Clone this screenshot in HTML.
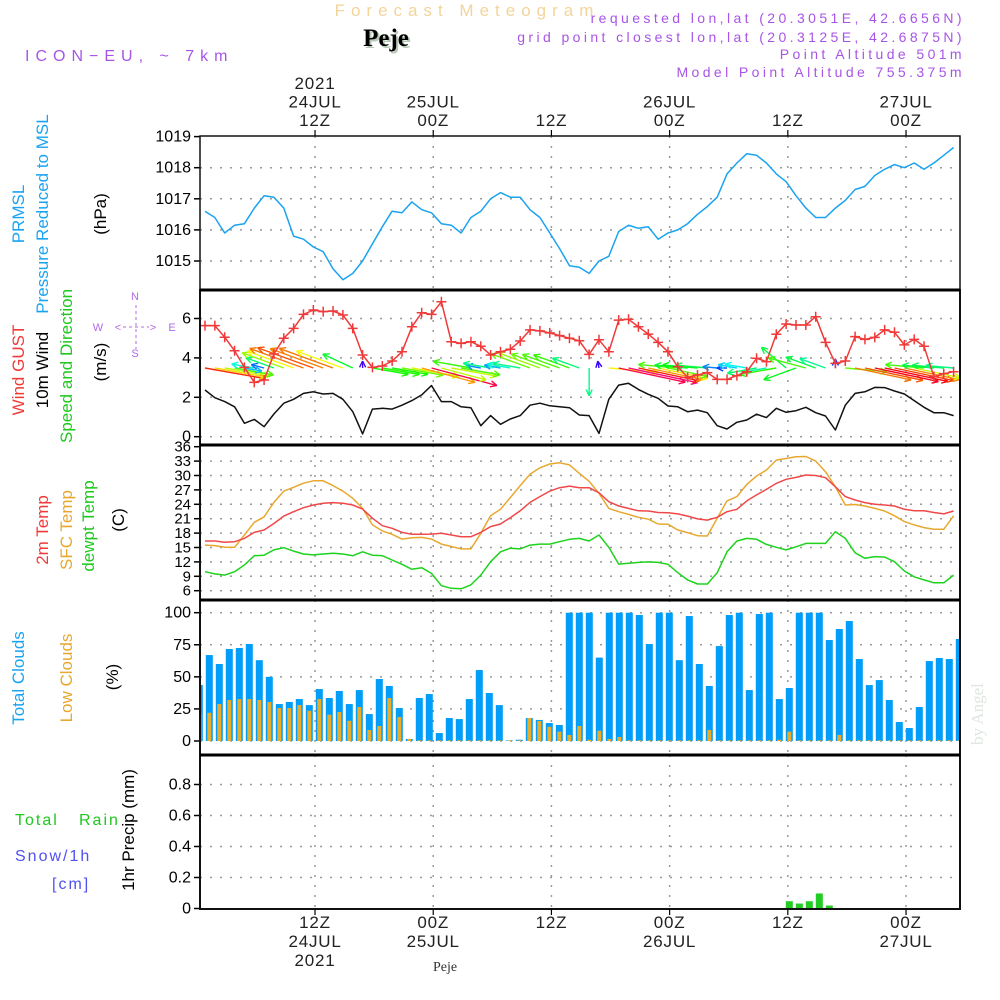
<!DOCTYPE html>
<html><head><meta charset="utf-8"><title>Forecast Meteogram - Peje</title>
<style>
html,body{margin:0;padding:0;background:#fff;}
svg{display:block;font-family:"Liberation Sans",sans-serif;}
.n{font-family:"Liberation Sans Narrow","Liberation Sans",sans-serif;}
</style></head>
<body>
<svg id="chart" width="1000" height="1000" viewBox="0 0 1000 1000" xmlns="http://www.w3.org/2000/svg">
<defs>
<clipPath id="c1"><rect x="200" y="136" width="760" height="154"/></clipPath>
<clipPath id="c2"><rect x="200" y="290" width="760" height="155"/></clipPath>
<clipPath id="c3"><rect x="200" y="445" width="760" height="155"/></clipPath>
<clipPath id="c4"><rect x="200" y="600" width="760" height="155"/></clipPath>
<clipPath id="c5"><rect x="200" y="755" width="760" height="154"/></clipPath>
</defs>
<text x="467" y="16" text-anchor="middle" fill="#f3d59a" font-size="17" letter-spacing="6">Forecast Meteogram</text>
<text x="388" y="48" text-anchor="middle" fill="#b8c8b8" font-family="Liberation Serif,serif" font-weight="bold" font-size="25">Peje</text>
<text x="386" y="46" text-anchor="middle" fill="#000" font-family="Liberation Serif,serif" font-weight="bold" font-size="25">Peje</text>
<text x="25" y="61" fill="#a855e6" font-size="16" letter-spacing="6">ICON−EU, ~ 7km</text>
<g fill="#a855e6" font-size="14" letter-spacing="3.4" text-anchor="end">
<text x="965" y="23">requested lon,lat (20.3051E, 42.6656N)</text>
<text x="965" y="42">grid point closest lon,lat (20.3125E, 42.6875N)</text>
<text x="965" y="59">Point Altitude 501m</text>
<text x="965" y="77">Model Point Altitude 755.375m</text>
</g>
<g id="grid"></g>
<g id="series"></g>
<g id="frames"></g>
<g id="labels"></g>
<text transform="translate(983,745) rotate(-90)" fill="#dfe6df" font-family="Liberation Serif,serif" font-size="17">by Angel</text>
<text x="445" y="971" text-anchor="middle" fill="#333" font-family="Liberation Serif,serif" font-size="14">Peje</text>
</svg>
<script>
// ---- data ----
const timeTickLabelsTop = [["2021","24JUL","12Z"],["25JUL","00Z"],["12Z"],["26JUL","00Z"],["12Z"],["27JUL","00Z"]];
const timeTickLabelsBottom = [["12Z","24JUL","2021"],["00Z","25JUL"],["12Z"],["00Z","26JUL"],["12Z"],["00Z","27JUL"]];
const timeTickHours = [11.17, 23.17, 35.17, 47.17, 59.17, 71.17];
const pressure = [1016.6,1016.4,1015.9,1016.15,1016.2,1016.7,1017.1,1017.05,1016.7,1015.8,1015.7,1015.45,1015.3,1014.75,1014.4,1014.6,1015.0,1015.55,1016.1,1016.6,1016.55,1016.9,1016.65,1016.55,1016.2,1016.15,1015.9,1016.4,1016.6,1017.0,1017.2,1017.05,1017.05,1016.65,1016.4,1015.9,1015.4,1014.85,1014.8,1014.6,1015.0,1015.15,1015.95,1016.15,1016.05,1016.1,1015.7,1015.9,1016.0,1016.2,1016.5,1016.75,1017.05,1017.8,1018.15,1018.45,1018.4,1018.15,1017.8,1017.55,1017.1,1016.7,1016.4,1016.4,1016.7,1016.95,1017.3,1017.4,1017.75,1017.95,1018.1,1018.0,1018.15,1017.95,1018.15,1018.4,1018.65];
const pressureTicks = [1015,1016,1017,1018,1019];
const windSpeed = [2.37,1.98,1.78,1.52,0.68,0.88,0.51,1.15,1.7,1.9,2.2,2.28,2.17,2.2,1.9,1.27,0.14,1.4,1.44,1.4,1.6,1.83,2.12,2.6,1.78,1.78,1.52,1.47,0.56,1.07,0.63,0.9,1.07,1.6,1.7,1.57,1.52,1.47,1.1,1.07,0.17,1.9,2.62,2.71,2.4,2.15,1.95,1.56,1.52,1.27,1.35,1.22,0.56,0.39,0.73,0.85,1.14,0.97,1.44,1.24,1.32,1.49,1.22,1.05,0.34,1.6,2.2,2.28,2.5,2.49,2.32,2.17,1.83,1.49,1.22,1.22,1.07];
const windGust = [5.64,5.64,5.05,4.36,3.52,2.76,2.88,4.2,5.0,5.5,6.21,6.43,6.35,6.38,6.18,5.5,4.15,3.52,3.59,3.84,4.31,5.58,6.29,6.21,6.85,4.82,4.74,4.82,4.59,4.15,4.31,4.44,4.86,5.42,5.37,5.27,5.13,5.0,4.87,4.18,4.92,4.31,5.92,5.96,5.58,5.21,4.79,4.31,3.55,3.01,3.13,3.25,2.91,2.91,3.1,3.3,3.98,3.81,5.2,5.72,5.67,5.67,6.09,4.79,3.72,3.84,5.08,4.94,5.04,5.42,5.3,4.66,4.94,4.59,3.05,3.2,3.3];
const windDir = [-10,-10,-10,-10,-10,170,165,160,160,160,160,160,160,160,160,155,90,-10,-10,-10,-10,-10,-15,-15,-15,-10,-10,170,170,170,170,170,170,160,160,160,160,160,160,270,100,-5,-12,-12,-12,-12,-12,-12,175,175,175,175,175,180,170,170,190,190,190,140,200,165,160,160,90,-5,-12,-12,-12,-12,-12,-12,-12,175,175,175,175];
const windTicks = [0,2,4,6];
const temp2m = [16.35,16.35,16.1,16.2,16.9,18.15,18.65,20.0,21.55,22.45,23.3,23.85,24.2,24.35,24.2,23.85,23.0,21.1,19.55,19.0,18.15,17.75,17.75,17.8,17.95,17.6,17.25,17.25,18.15,19.35,19.9,21.2,22.65,24.4,25.6,26.75,27.45,27.8,27.45,27.45,26.4,24.55,23.65,23.15,22.65,22.6,22.3,22.25,22.0,21.55,20.95,20.7,21.3,22.45,22.95,24.7,25.95,27.1,28.35,29.2,29.6,30.1,30.0,29.55,27.65,25.6,24.9,24.35,24.0,23.85,23.65,22.95,22.65,22.65,22.3,22.0,22.6];
const tempSfc = [15.5,15.4,15.05,15.05,17.6,20.25,21.4,24.4,26.75,27.55,28.4,28.9,28.9,27.9,26.75,25.25,23.15,19.7,18.45,17.75,16.75,17.05,17.1,16.75,15.7,15.2,14.7,14.7,17.95,21.6,22.95,25.4,27.9,30.25,31.6,32.4,32.65,32.2,30.45,28.8,26.3,23.15,22.45,21.9,21.3,20.9,19.9,19.85,18.65,18.1,17.45,17.4,21.1,24.7,25.6,28.15,29.9,31.15,33.2,33.55,33.9,33.95,33.0,30.8,27.65,23.85,23.95,23.65,23.15,22.6,21.6,20.4,19.7,19.15,18.8,18.8,21.6];
const dewpoint = [9.95,9.5,9.25,9.95,11.35,13.3,13.4,14.5,14.95,14.25,13.65,13.45,13.65,13.8,13.65,13.3,14.1,13.4,13.3,12.4,11.5,10.45,10.8,9.6,7.05,6.5,6.4,7.2,9.25,12.05,14.1,14.85,14.7,15.5,15.7,15.7,16.2,16.7,16.9,16.35,17.6,15.05,11.55,11.7,11.9,12.0,11.9,11.5,9.75,8.25,7.4,7.4,9.75,14.1,16.35,16.9,16.7,15.65,15.05,14.5,15.15,15.85,15.85,15.85,18.3,16.9,13.9,12.75,13.1,13.0,12.05,10.1,8.9,8.25,7.65,7.65,9.25];
const tempTicks = [6,9,12,15,18,21,24,27,30,33,36];
const totalClouds = [43.6,67,60,71.7,72.5,75.6,63,50,28.8,30.4,32.7,28,40.5,33.5,39,28.8,39.7,21,48.3,42.9,25.7,1.6,33.5,36.6,6.2,17.9,17.1,32.7,55.3,37.4,28,0.5,1,17.9,16.4,14,12.5,100,100,100,65,100,100,100,98.2,75.6,100,100,63,97.4,60,42.9,74,98.2,100,39.7,99,100,32.7,41.3,100,100,100,78.7,87.3,93.5,63.9,43.6,47.5,32,14.8,10.1,26.5,62.3,64.7,63.9,79.5];
const lowClouds = [21,22,28.8,32,32.7,32.7,32,30.4,25.7,25.7,28,23.6,32.7,20.5,22.6,15.8,26.5,8.6,11.7,33.5,18.7,1.6,0.5,0.5,0.5,0.5,0.5,0.5,0.5,0.5,0.5,0.5,0.5,17.9,15.6,11.1,7.3,4.7,11.7,1,8,1.6,3.1,0.5,0.5,0.5,0.5,0.5,0.5,0.5,0.5,8.6,0.5,0.5,0.5,0.5,0.5,0.5,1,7.3,0.5,0.5,0.5,0.5,4.7,0.5,0.5,0.5,0.5,0.5,0.5,0.5,0.5,0.5,0.5,0.5,0.5];
const cloudTicks = [0,25,50,75,100];
const precip = [0,0,0,0,0,0,0,0,0,0,0,0,0,0,0,0,0,0,0,0,0,0,0,0,0,0,0,0,0,0,0,0,0,0,0,0,0,0,0,0,0,0,0,0,0,0,0,0,0,0,0,0,0,0,0,0,0,0,0,0.047,0.032,0.047,0.097,0.019,0,0,0,0,0,0,0,0,0,0,0,0,0];
const precipTicks = [0,0.2,0.4,0.6,0.8];
const precipTickLabels = ["0","0.2","0.4","0.6","0.8"];

// ---- scales ----
const xL = h => 205 + h * 9.85;
const xB = k => 199.3 + k * 10;
const yP = v => 261 - (v - 1015) * 31.1;
const yW = v => 436.7 - v * 19.7;
const yT = v => 590.7 - (v - 6) * 4.8;
const yC = v => 741 - v * 1.283;
const yR = v => 908.5 - v * 155;

const NS = "http://www.w3.org/2000/svg";
function mk(tag, parent, attrs) {
  const e = document.createElementNS(NS, tag);
  for (const k in attrs) e.setAttribute(k, attrs[k]);
  parent.appendChild(e);
  return e;
}
const grid = document.getElementById('grid');
const series = document.getElementById('series');
const frames = document.getElementById('frames');
const labels = document.getElementById('labels');
const panels = [[136,290],[290,445],[445,600],[600,755],[755,909]];
const dash = {stroke:'#9a9a9a','stroke-width':1.5,'stroke-dasharray':'2,8'};

panels.forEach(function(p){
  timeTickHours.forEach(function(h){
    const l = mk('line', grid, Object.assign({x1:xL(h),x2:xL(h),y1:p[0],y2:p[1]}, dash));
    
    
  });
});
function hgrid(ticks, ys, p, name, fmt, fs) {
  ticks.forEach(function(v, i){
    const y = ys(v);
    if (y > p[0] + 2 && y < p[1] - 2) {
      const l = mk('line', grid, Object.assign({x1:200,x2:960,y1:y,y2:y}, dash));
      
      
    }
    const t = mk('line', frames, {x1:194,x2:200,y1:y,y2:y,stroke:'#000','stroke-width':1.5});
    
    
    const tx = mk('text', labels, {x:191,y:y+5,'text-anchor':'end','font-size':fs,fill:'#000'});
    tx.textContent = fmt(v, i);
    
    
  });
}
hgrid(pressureTicks, yP, panels[0], 'pressure', v => String(v), 16);
hgrid(windTicks, yW, panels[1], 'wind', v => String(v), 16);
hgrid(tempTicks, yT, panels[2], 'temp', v => String(v), 15);
hgrid(cloudTicks, yC, panels[3], 'cloud', v => String(v), 16);
hgrid(precipTicks, yR, panels[4], 'precip', (v,i) => precipTickLabels[i], 16);

function poly(arr, xs, ys, color, clip, name, w) {
  const pts = arr.map((v,i) => xs(i).toFixed(1) + ',' + ys(v).toFixed(1)).join(' ');
  const pl = mk('polyline', series, {points:pts,fill:'none',stroke:color,'stroke-width':w||1.5,'clip-path':'url(#'+clip+')','stroke-linejoin':'round'});
  
  
  return pl;
}
poly(pressure, xL, yP, '#1aa3f0', 'c1', 'pressure-line');

totalClouds.forEach(function(v,k){
  const r = mk('rect', series, {x:xB(k)-3.5,y:yC(v),width:7,height:yC(0)-yC(v),fill:'#009ef8','clip-path':'url(#c4)'});
  
  
});
lowClouds.forEach(function(v,k){
  const r = mk('rect', series, {x:xB(k)-2,y:yC(v),width:4,height:yC(0)-yC(v),fill:'#e8ad2c','clip-path':'url(#c4)'});
  
  
});
precip.forEach(function(v,k){
  if (v <= 0) return;
  const r = mk('rect', series, {x:xB(k)-3.5,y:yR(v),width:7,height:yR(0)-yR(v),fill:'#22cc22','clip-path':'url(#c5)'});
  
  
});

windDir.forEach(function(d,i){
  const s = windSpeed[i];
  const len = Math.max(s * 26, 7);
  const a = d * Math.PI / 180;
  const x0 = xL(i), y0 = 368;
  const x1 = x0 + len * Math.cos(a), y1 = y0 - len * Math.sin(a);
  let hue = 270 - 110 * s; if (hue < 0) hue += 360;
  const col = 'hsl(' + hue.toFixed(0) + ',95%,50%)';
  const g = mk('g', series, {stroke:col,'stroke-width':1.4,fill:'none','clip-path':'url(#c2)'});
  
  
  mk('line', g, {x1:x0,y1:y0,x2:x1,y2:y1});
  [0.45,-0.45].forEach(function(o){
    mk('line', g, {x1:x1,y1:y1,x2:x1 - 7*Math.cos(a+o),y2:y1 + 7*Math.sin(a+o)});
  });
});
poly(windSpeed, xL, yW, '#111', 'c2', 'wind-speed-line');
poly(windGust, xL, yW, '#f03a3a', 'c2', 'wind-gust-line');
windGust.forEach(function(v,i){
  const x = xL(i), y = yW(v);
  const m = mk('path', series, {d:'M'+(x-5)+','+y+'h10M'+x+','+(y-5)+'v10',stroke:'#f03a3a','stroke-width':1.5});
  
  
});
poly(tempSfc, xL, yT, '#e8a830', 'c3', 'sfc-temp-line');
poly(temp2m, xL, yT, '#f04848', 'c3', 'temp-2m-line');
poly(dewpoint, xL, yT, '#1ed21e', 'c3', 'dewpoint-line');

panels.forEach(function(p, i){
  const r = mk('rect', frames, {x:200,y:p[0],width:760,height:p[1]-p[0],fill:'none',stroke:'#111','stroke-width':i===0?1.5:2});
  
  
});
panels.slice(1).forEach(function(p){
  const l = mk('line', frames, {x1:200,x2:960,y1:p[0],y2:p[0],stroke:'#000','stroke-width':3});
  
  
});

timeTickHours.forEach(function(h,i){
  const x = xL(h);
  const tk = mk('line', frames, {x1:x,x2:x,y1:130,y2:136,stroke:'#000','stroke-width':1.2});
  
  
  const tb = mk('line', frames, {x1:x,x2:x,y1:909,y2:915,stroke:'#000','stroke-width':1.2});
  
  
  const top = timeTickLabelsTop[i];
  top.forEach(function(s,j){
    const t = mk('text', labels, {x:x,y:126-(top.length-1-j)*18.5,'text-anchor':'middle','font-size':17,fill:'#222','letter-spacing':'0.8'});
    t.textContent = s;
    
    
  });
  timeTickLabelsBottom[i].forEach(function(s,j){
    const t = mk('text', labels, {x:x,y:928+j*19,'text-anchor':'middle','font-size':17,fill:'#222','letter-spacing':'0.8'});
    t.textContent = s;
    
    
  });
});

function vlabel(txt, x, y, color, name, fs) {
  const t = mk('text', labels, {transform:'translate('+x+','+y+') rotate(-90)','text-anchor':'middle','font-size':fs||17,fill:color,'class':'n'});
  t.textContent = txt;
  
  
}
vlabel('PRMSL', 24, 214, '#1aa3f0', 'pressure-title');
vlabel('Pressure Reduced to MSL', 48, 214, '#1aa3f0', 'pressure-subtitle');
vlabel('(hPa)', 106, 214, '#000', 'pressure-unit');
vlabel('Wind GUST', 24, 370, '#f03a3a', 'gust-title');
vlabel('10m Wind', 48, 370, '#000', 'wind-title');
vlabel('Speed and Direction', 72, 366, '#1ec81e', 'wind-subtitle');
vlabel('(m/s)', 106, 362, '#000', 'wind-unit');
vlabel('2m Temp', 48, 530, '#f03a3a', 'temp-2m-title');
vlabel('SFC Temp', 72, 530, '#e8a830', 'sfc-temp-title');
vlabel('dewpt Temp', 94, 526, '#1ec81e', 'dewpt-title');
vlabel('(C)', 124, 520, '#000', 'temp-unit');
vlabel('Total Clouds', 24, 678, '#1aa3f0', 'total-clouds-title');
vlabel('Low Clouds', 72, 678, '#e8a830', 'low-clouds-title');
vlabel('(%)', 118, 677, '#000', 'cloud-unit');
vlabel('1hr Precip (mm)', 134, 830, '#000', 'precip-title');

const comp = mk('g', labels, {fill:'#b06ae8','font-size':11,'text-anchor':'middle'});


[['N',135,300],['S',135,357],['W',98,331],['E',172,331],['<',118,331],['>',153,331]].forEach(function(c){
  const t = mk('text', comp, {x:c[1],y:c[2]}); t.textContent = c[0];
});
mk('path', comp, {d:'M123,327h26M136,305v44',stroke:'#b06ae8','stroke-width':1,'stroke-dasharray':'3,3',fill:'none'});

[['Total',15,825,'#1ec81e'],['Rain',79,825,'#1ec81e'],['Snow/1h',15,861,'#5050f0'],['[cm]',52,889,'#5050f0']].forEach(function(c){
  const t = mk('text', labels, {x:c[1],y:c[2],fill:c[3],'font-size':16,'letter-spacing':'2'});
  t.textContent = c[0];
  
  
});
</script>
</body></html>
